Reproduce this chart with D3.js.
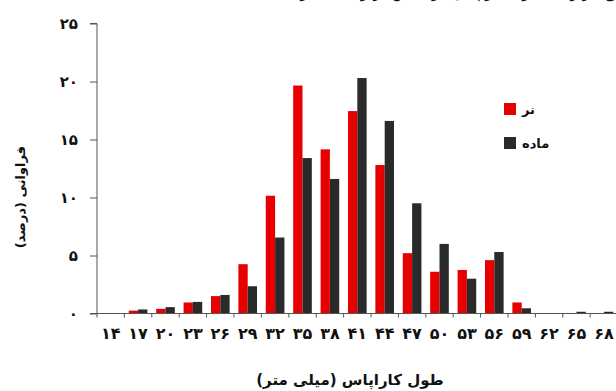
<!DOCTYPE html>
<html>
<head>
<meta charset="utf-8">
<script src="https://cdn.jsdelivr.net/npm/d3@7"></script>
<style>
  html, body { margin: 0; padding: 0; background: #fff; }
  svg { display: block; }
  text { font-family: "DejaVu Sans", sans-serif; }
</style>
</head>
<body>
<svg id="chart" width="616" height="391"></svg>
<script>
// Carapace length classes (mm), Persian digits
const categories = ["۱۴","۱۷","۲۰","۲۳","۲۶","۲۹","۳۲","۳۵","۳۸","۴۱","۴۴","۴۷","۵۰","۵۳","۵۶","۵۹","۶۲","۶۵","۶۸"];
// Frequency (%) for males (نر) and females (ماده)
const maleValues   = [0, 0.25, 0.4, 0.95, 1.5, 4.25, 10.15, 19.65, 14.15, 17.45, 12.8, 5.2, 3.6, 3.75, 4.6, 0.95, 0, 0, 0];
const femaleValues = [0, 0.35, 0.55, 1.0, 1.6, 2.35, 6.55, 13.4, 11.6, 20.3, 16.6, 9.5, 6.0, 3.0, 5.3, 0.45, 0, 0.15, 0.15];
const yTicks = [0, 5, 10, 15, 20, 25];
const yTickLabels = ["۰","۵","۱۰","۱۵","۲۰","۲۵"];
const seriesNames = ["نر", "ماده"];
const seriesColors = ["#e60000", "#2a2a2a"];

const svg = d3.select("#chart");
const x0 = 97, step = 27.4;
const plotRight = x0 + step * categories.length;
const yTop = 23.5, yBottom = 313.5;

const x = d3.scaleBand()
  .domain(categories)
  .range([x0, plotRight])
  .paddingInner(0.32)
  .paddingOuter(0.16);
const xSub = d3.scaleBand().domain([0, 1]).range([0, x.bandwidth()]);
const y = d3.scaleLinear().domain([0, 25]).range([yBottom, yTop]);

// caption line running off the top edge of the figure
svg.append("text")
  .attr("x", 455).attr("y", -3)
  .attr("text-anchor", "middle")
  .attr("direction", "rtl")
  .style("font-size", "16px")
  .attr("fill", "#111")
  .text("توزیع فراوانی طول کاراپاس در جنس نر و ماده (درصد)");

// bars
const rows = categories.map((c, i) => ({ c, v: [maleValues[i], femaleValues[i]] }));
const groups = svg.append("g").selectAll("g")
  .data(rows).join("g")
  .attr("transform", d => `translate(${x(d.c)},0)`);
groups.selectAll("rect")
  .data(d => d.v.map((v, k) => ({ v, k })))
  .join("rect")
  .attr("x", d => xSub(d.k))
  .attr("width", xSub.bandwidth())
  .attr("y", d => y(d.v))
  .attr("height", d => yBottom - y(d.v))
  .attr("fill", d => seriesColors[d.k]);

// y axis
const yAxis = d3.axisLeft(y)
  .tickValues(yTicks)
  .tickFormat((d, i) => yTickLabels[i])
  .tickSize(7)
  .tickPadding(12);
const gy = svg.append("g").attr("transform", `translate(${x0},0)`).call(yAxis);
gy.select(".domain").attr("stroke", "#555").attr("d", `M-7,${yTop}H0V${yBottom}`);
gy.selectAll(".tick line").attr("stroke", "#555");
gy.selectAll(".tick text")
  .style("font-size", "15px").style("font-weight", "bold").attr("fill", "#111");

// x axis: ticks at class boundaries
const gx = svg.append("g").attr("transform", `translate(0,${yBottom})`);
gx.append("line").attr("x1", x0 - 7).attr("x2", 616).attr("stroke", "#555");
gx.selectAll("line.tk")
  .data(d3.range(categories.length + 1))
  .join("line").attr("class", "tk")
  .attr("x1", i => x0 + i * x.step()).attr("x2", i => x0 + i * x.step())
  .attr("y1", 0).attr("y2", 4).attr("stroke", "#555");
gx.selectAll("text")
  .data(categories)
  .join("text")
  .attr("x", d => x(d) + x.bandwidth() / 2)
  .attr("y", 25)
  .attr("text-anchor", "middle")
  .style("font-size", "16px").style("font-weight", "bold").attr("fill", "#111")
  .text(d => d);

// axis titles
svg.append("text")
  .attr("x", 350).attr("y", 385)
  .attr("text-anchor", "middle")
  .style("font-size", "15px").style("font-weight", "bold").attr("fill", "#111")
  .text("طول کاراپاس (میلی متر)");
svg.append("text")
  .attr("transform", "translate(25,197) rotate(-90)")
  .attr("text-anchor", "middle")
  .style("font-size", "13px").style("font-weight", "bold").attr("fill", "#111")
  .text("فراوانی (درصد)");

// legend
const legend = svg.append("g").attr("transform", "translate(504,103)");
seriesNames.forEach((name, i) => {
  const g = legend.append("g").attr("transform", `translate(0,${i * 34})`);
  g.append("rect").attr("width", 12).attr("height", 12).attr("fill", seriesColors[i]);
  g.append("text").attr("x", 18).attr("y", 11)
    .attr("text-anchor", "start")
    .style("font-size", "13px").style("font-weight", "bold").attr("fill", "#111")
    .text(name);
});
</script>
</body>
</html>
